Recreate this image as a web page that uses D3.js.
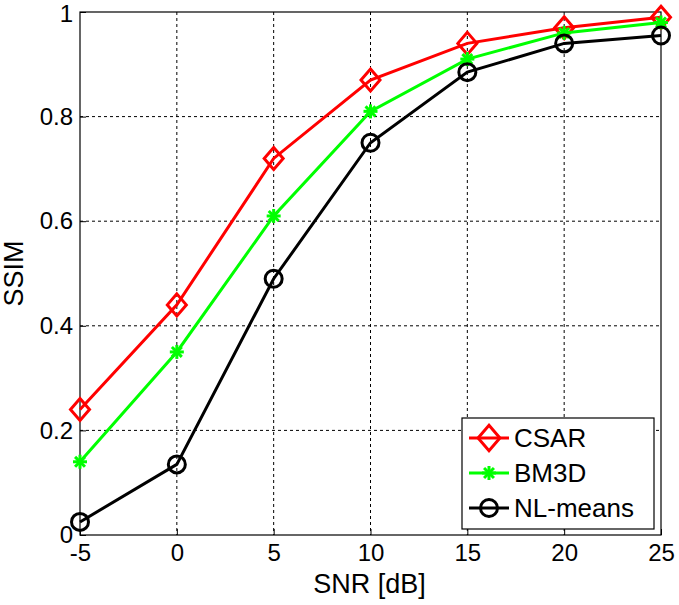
<!DOCTYPE html>
<html>
<head>
<meta charset="utf-8">
<script src="https://d3js.org/d3.v7.min.js"></script>
<style>
  body { margin: 0; background: #fff; }
  svg text { font-family: "Liberation Sans", Arial, sans-serif; }
</style>
</head>
<body>
<div id="chart"></div>
<script>
// SNR values (x) and SSIM per method
var snr = [-5, 0, 5, 10, 15, 20, 25];
var csar = [0.24, 0.44, 0.72, 0.87, 0.94, 0.97, 0.99];
var bm3d = [0.14, 0.35, 0.61, 0.81, 0.91, 0.96, 0.98];
var nlmeans = [0.025, 0.135, 0.49, 0.75, 0.885, 0.94, 0.955];
var xTicks = [-5, 0, 5, 10, 15, 20, 25];
var yTicks = [0, 0.2, 0.4, 0.6, 0.8, 1];

var series = [
  { name: "CSAR", values: csar, color: "#ff0000", marker: "diamond" },
  { name: "BM3D", values: bm3d, color: "#00ff00", marker: "star" },
  { name: "NL-means", values: nlmeans, color: "#000000", marker: "circle" }
];

var W = 679, H = 605;
var margin = { top: 12, right: 18, bottom: 70, left: 80 };
var width = W - margin.left - margin.right;
var height = H - margin.top - margin.bottom;

var svg = d3.select("#chart").append("svg")
  .attr("width", W).attr("height", H);
var g = svg.append("g")
  .attr("transform", "translate(" + margin.left + "," + margin.top + ")");

var x = d3.scaleLinear().domain([-5, 25]).range([0, width]);
var y = d3.scaleLinear().domain([0, 1]).range([height, 0]);

// grid
g.selectAll(".gx").data(xTicks.slice(1, -1)).enter().append("line")
  .attr("x1", function (d) { return x(d); }).attr("x2", function (d) { return x(d); })
  .attr("y1", 0).attr("y2", height)
  .attr("stroke", "#000").attr("stroke-width", 1).style("stroke-dasharray", "3,3");
g.selectAll(".gy").data(yTicks.slice(1, -1)).enter().append("line")
  .attr("y1", function (d) { return y(d); }).attr("y2", function (d) { return y(d); })
  .attr("x1", 0).attr("x2", width)
  .attr("stroke", "#000").attr("stroke-width", 1).style("stroke-dasharray", "3,3");

// frame
g.append("rect").attr("width", width).attr("height", height)
  .attr("fill", "none").attr("stroke", "#000").attr("stroke-width", 1.2);

// axes
var xAxis = g.append("g").attr("transform", "translate(0," + height + ")")
  .call(d3.axisBottom(x).tickValues(xTicks).tickSize(-6).tickPadding(8)
    .tickFormat(function (d) { return String(d); }));
var yAxis = g.append("g")
  .call(d3.axisLeft(y).tickValues(yTicks).tickSize(-6).tickPadding(7)
    .tickFormat(function (d) { return String(d); }));
[xAxis, yAxis].forEach(function (a) {
  a.select(".domain").remove();
  a.selectAll("text").attr("font-size", "24px").attr("fill", "#000");
});
xAxis.selectAll("text").attr("dy", "0.75em");
// keep the top label inside the page
yAxis.selectAll("text").filter(function (d) { return d === 1; }).attr("dy", "0.4em");

// axis labels
svg.append("text").attr("x", margin.left + width / 2 - 1).attr("y", 593)
  .attr("text-anchor", "middle").attr("font-size", "27px").text("SNR [dB]");
svg.append("text")
  .attr("transform", "translate(23," + (margin.top + height / 2) + ") rotate(-90)")
  .attr("text-anchor", "middle").attr("font-size", "27px").text("SSIM");

function drawMarker(sel, type, color, big) {
  var k = big ? 1.15 : 1;
  if (type === "diamond") {
    sel.append("path")
      .attr("d", "M0," + (-11 * k) + "L" + (9.5 * k) + ",0L0," + (11 * k) + "L" + (-9.5 * k) + ",0Z")
      .attr("fill", "none").attr("stroke", color).attr("stroke-width", 3);
  } else if (type === "circle") {
    sel.append("circle").attr("r", 8.5)
      .attr("fill", "none").attr("stroke", color).attr("stroke-width", 3);
  } else {
    var r = 7;
    [0, 45, 90, 135].forEach(function (a) {
      var rad = a * Math.PI / 180;
      sel.append("line")
        .attr("x1", -r * Math.cos(rad)).attr("y1", -r * Math.sin(rad))
        .attr("x2", r * Math.cos(rad)).attr("y2", r * Math.sin(rad))
        .attr("stroke", color).attr("stroke-width", 3);
    });
  }
}

var line = d3.line()
  .x(function (d, i) { return x(snr[i]); })
  .y(function (d) { return y(d); });

series.forEach(function (s) {
  g.append("path").datum(s.values)
    .attr("d", line).attr("fill", "none")
    .attr("stroke", s.color).attr("stroke-width", 3);
  s.values.forEach(function (v, i) {
    var m = g.append("g").attr("transform", "translate(" + x(snr[i]) + "," + y(v) + ")");
    drawMarker(m, s.marker, s.color, false);
  });
});

// legend
var lg = svg.append("g").attr("transform", "translate(462,418)");
lg.append("rect").attr("width", 192).attr("height", 111)
  .attr("fill", "#fff").attr("stroke", "#000").attr("stroke-width", 1.2);
series.forEach(function (s, i) {
  var yy = 20 + i * 35;
  lg.append("line").attr("x1", 7).attr("x2", 47).attr("y1", yy).attr("y2", yy)
    .attr("stroke", s.color).attr("stroke-width", 3);
  var m = lg.append("g").attr("transform", "translate(27," + yy + ")");
  drawMarker(m, s.marker, s.color, true);
  lg.append("text").attr("x", 52).attr("y", yy).attr("dy", "0.36em")
    .attr("font-size", "26px").text(s.name);
});
</script>
</body>
</html>
